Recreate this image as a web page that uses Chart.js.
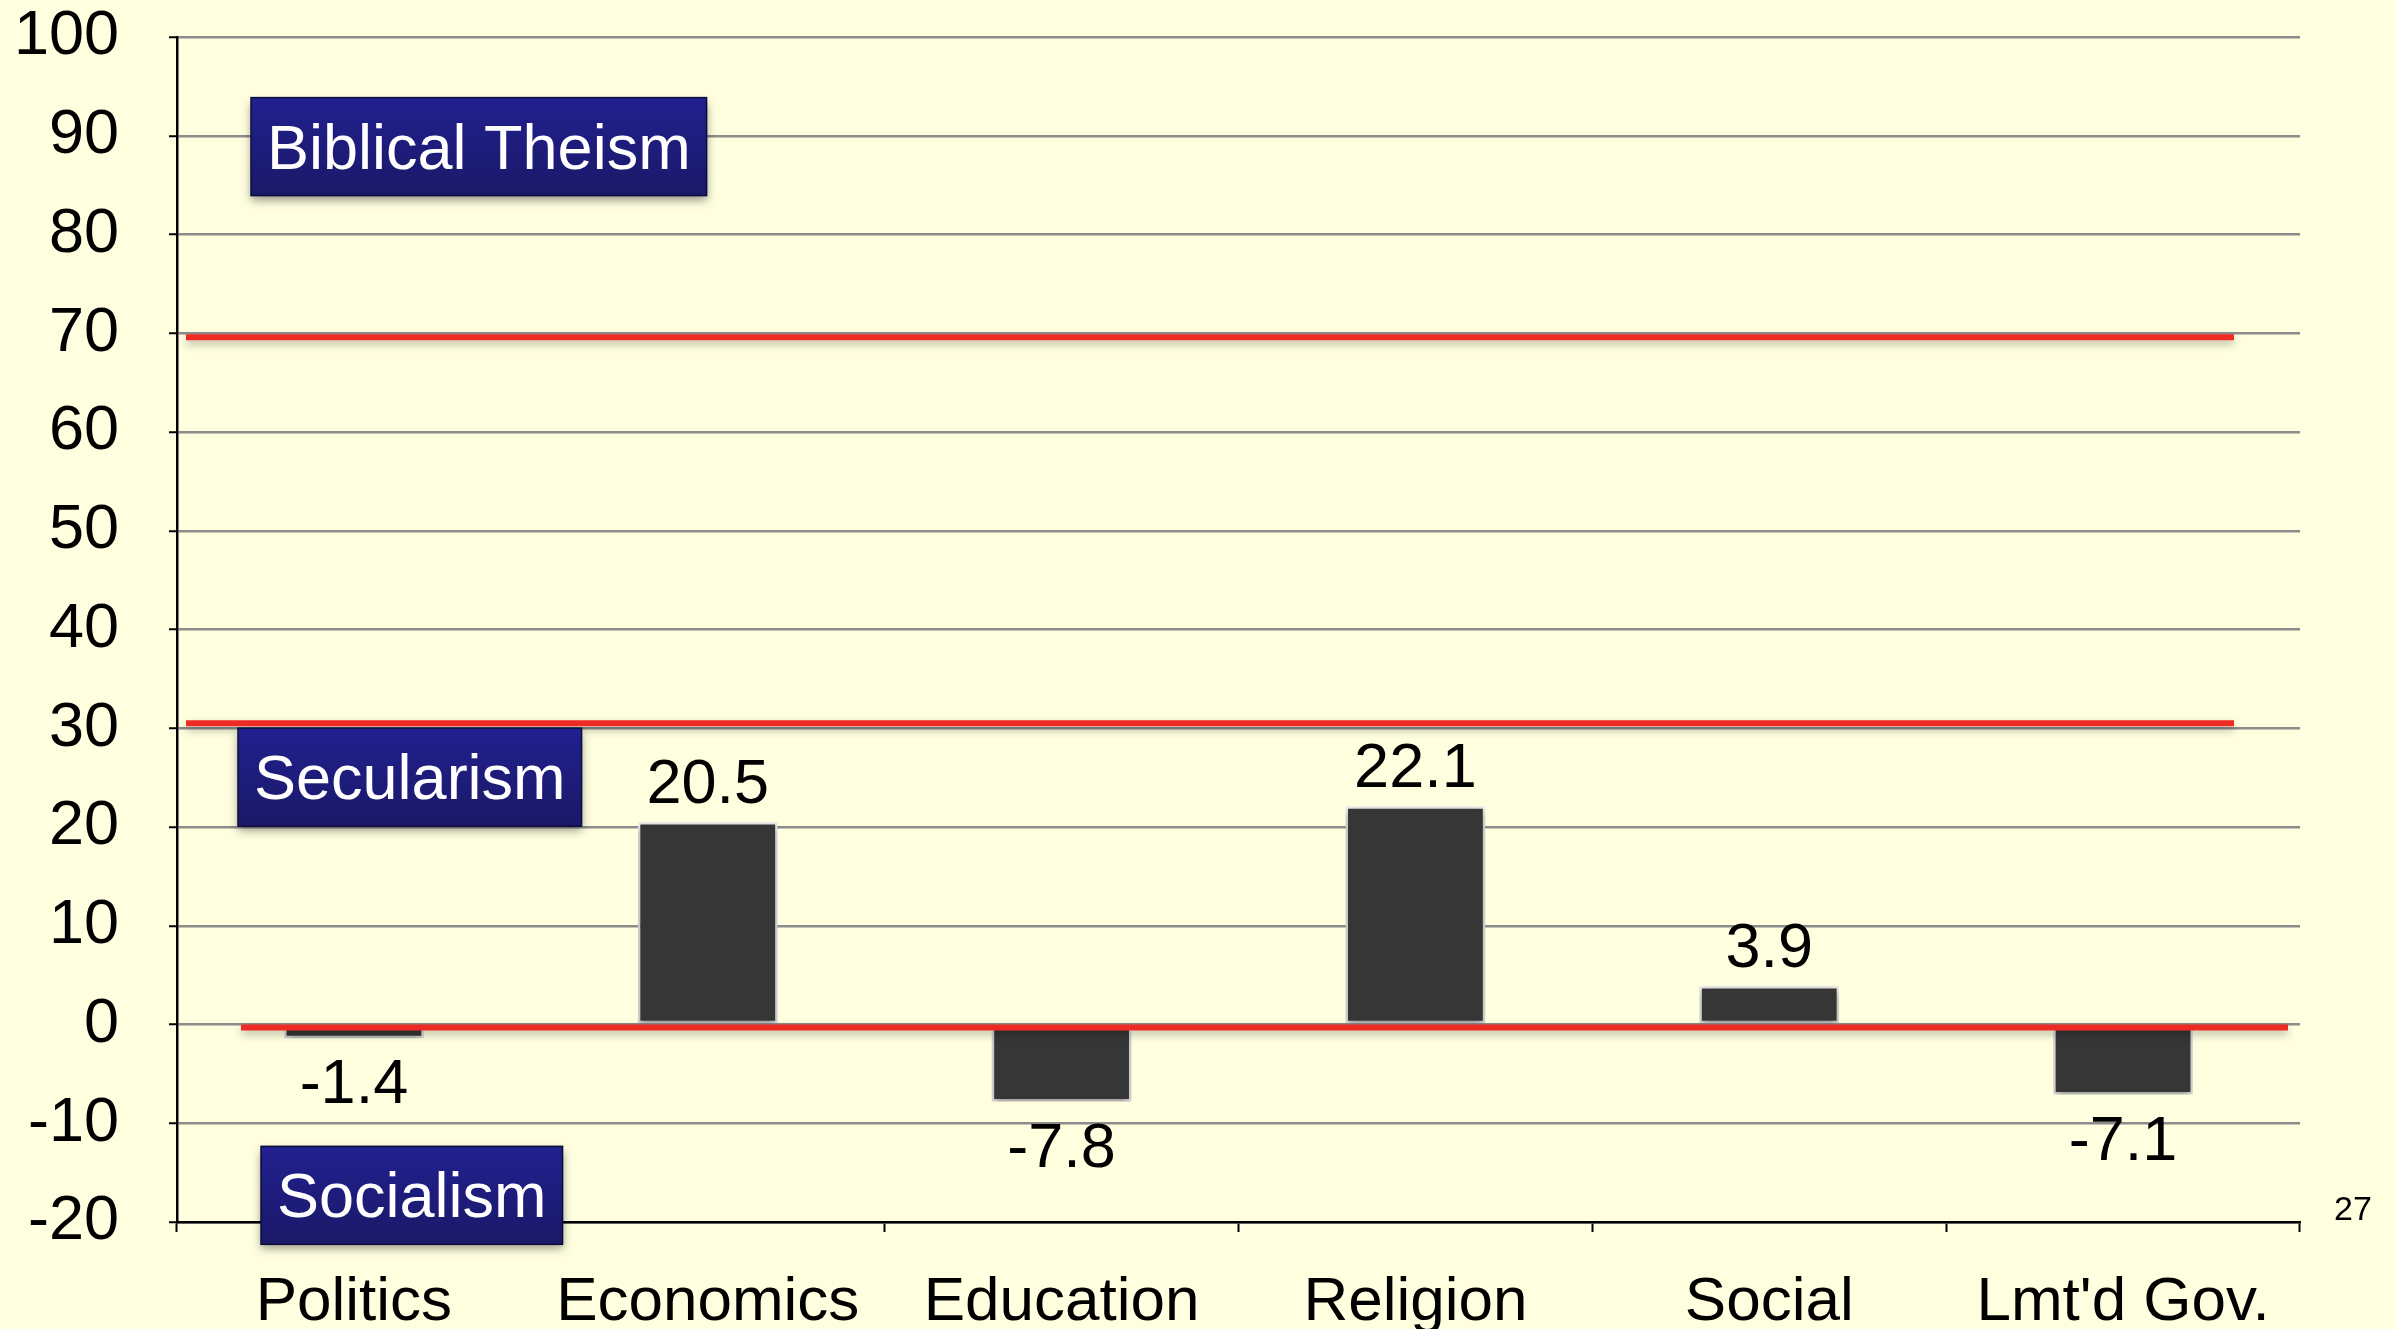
<!DOCTYPE html>
<html>
<head>
<meta charset="utf-8">
<title>Worldview scores</title>
<script src="https://cdn.jsdelivr.net/npm/chart.js@4.4.1/dist/chart.umd.min.js"></script>
<style>
    html, body { margin: 0; padding: 0; background: #ffffe0; }
    #wrap { width: 2396px; height: 1329px; position: relative; }
</style>
</head>
<body>
<div id="wrap"><canvas id="grafico"></canvas></div>
<script>
const categorias = ["Politics", "Economics", "Education", "Religion", "Social", "Lmt'd Gov."];
const valores = [-1.4, 20.5, -7.8, 22.1, 3.9, -7.1];
const rotulos = ["-1.4", "20.5", "-7.8", "22.1", "3.9", "-7.1"];
const faixaNomes = ["Biblical Theism", "Secularism", "Socialism"];
const faixaCentros = [88.9, 25.05, -17.3];
const linhasLimite = [69.6, 30.5, -0.3];
const eixoMin = -20;
const eixoMax = 100;
const eixoPasso = 10;
const numeroSlide = "27";

const FONTE = "'Liberation Sans', Arial, sans-serif";

// sombra dos elementos (barras)
const sombraPlugin = {
    id: "sombra",
    beforeDatasetDraw(chart) {
        const ctx = chart.ctx;
        ctx.save();
        ctx.shadowColor = "rgba(0,0,0,0.35)";
        ctx.shadowBlur = 8;
        ctx.shadowOffsetY = 4;
    },
    afterDatasetDraw(chart) {
        chart.ctx.restore();
    },
};

// valores acima / abaixo das barras
const rotuloPlugin = {
    id: "rotulos",
    afterDatasetsDraw(chart) {
        const ctx = chart.ctx;
        const meta = chart.getDatasetMeta(0);
        ctx.save();
        ctx.font = "63px " + FONTE;
        ctx.fillStyle = "#000";
        ctx.textAlign = "center";
        ctx.textBaseline = "alphabetic";
        meta.data.forEach((bar, i) => {
            const v = valores[i];
            const y = v >= 0 ? bar.y - 19 : bar.y + 65;
            ctx.fillText(rotulos[i], bar.x, y);
        });
        ctx.restore();
    },
};

// linhas vermelhas e caixas azuis
const faixasPlugin = {
    id: "faixas",
    afterDatasetsDraw(chart) {
        const ctx = chart.ctx;
        const area = chart.chartArea;
        const y = chart.scales.y;

        const extensoes = [
            [9, 66],
            [9, 66],
            [64, 12],
        ];
        ctx.save();
        ctx.shadowColor = "rgba(0,0,0,0.3)";
        ctx.shadowBlur = 8;
        ctx.shadowOffsetY = 4;
        ctx.strokeStyle = "#ee2a24";
        ctx.lineWidth = 6;
        linhasLimite.forEach((v, i) => {
            const py = y.getPixelForValue(v);
            ctx.beginPath();
            ctx.moveTo(area.left + extensoes[i][0], py);
            ctx.lineTo(area.right - extensoes[i][1], py);
            ctx.stroke();
        });
        ctx.restore();

        const recuos = [74, 61, 84];
        ctx.save();
        ctx.font = "63px " + FONTE;
        faixaNomes.forEach((nome, i) => {
            const w = ctx.measureText(nome).width + 32;
            const h = 98;
            const x0 = area.left + recuos[i];
            const y0 = y.getPixelForValue(faixaCentros[i]) - h / 2;
            const grad = ctx.createLinearGradient(0, y0, 0, y0 + h);
            grad.addColorStop(0, "#21208f");
            grad.addColorStop(1, "#1a1968");
            ctx.save();
            ctx.shadowColor = "rgba(0,0,0,0.4)";
            ctx.shadowBlur = 9;
            ctx.shadowOffsetY = 5;
            ctx.fillStyle = grad;
            ctx.fillRect(x0, y0, w, h);
            ctx.restore();
            ctx.strokeStyle = "#0c0c3a";
            ctx.lineWidth = 1.5;
            ctx.strokeRect(x0, y0, w, h);
            ctx.fillStyle = "#fff";
            ctx.textAlign = "center";
            ctx.textBaseline = "alphabetic";
            ctx.fillText(nome, x0 + w / 2, y0 + h / 2 + 22);
        });

        ctx.font = "34px " + FONTE;
        ctx.fillStyle = "#000";
        ctx.textAlign = "center";
        ctx.textBaseline = "middle";
        ctx.fillText(numeroSlide, area.right + 53, y.getPixelForValue(eixoMin) - 11);
        ctx.restore();
    },
};

new Chart(document.getElementById("grafico"), {
    type: "bar",
    data: {
        labels: categorias,
        datasets: [
            {
                data: valores,
                backgroundColor: "#363636",
                borderColor: "#ebebeb",
                borderWidth: 2.5,
                borderSkipped: false,
                categoryPercentage: 1,
                barPercentage: 0.395,
            },
        ],
    },
    options: {
        responsive: true,
        maintainAspectRatio: false,
        animation: false,
        devicePixelRatio: 1,
        layout: { padding: { top: 37, right: 96, left: 0, bottom: 0 } },
        plugins: {
            legend: { display: false },
            tooltip: { enabled: false },
        },
        scales: {
            x: {
                grid: {
                    drawOnChartArea: false,
                    drawTicks: true,
                    tickLength: 10,
                    tickColor: "#000",
                    tickWidth: 2,
                },
                border: { color: "#000", width: 2.5 },
                ticks: {
                    color: "#000",
                    font: { family: FONTE, size: 62, lineHeight: 1 },
                    padding: 40,
                    maxRotation: 0,
                    autoSkip: false,
                },
                afterFit(scale) {
                    scale.height = 107;
                    scale.paddingLeft = 0;
                    scale.paddingRight = 0;
                },
            },
            y: {
                min: eixoMin,
                max: eixoMax,
                grid: {
                    color: "#8c8c8c",
                    lineWidth: 2.5,
                    tickLength: 8,
                    tickColor: "#000",
                    tickWidth: 2,
                },
                border: { color: "#000", width: 2.5 },
                ticks: {
                    stepSize: eixoPasso,
                    color: "#000",
                    font: { family: FONTE, size: 63, lineHeight: 1 },
                    padding: 50,
                },
                afterFit(scale) {
                    scale.width = 177;
                    scale.paddingTop = 0;
                    scale.paddingBottom = 0;
                },
            },
        },
    },
    plugins: [sombraPlugin, rotuloPlugin, faixasPlugin],
});
</script>
</body>
</html>
